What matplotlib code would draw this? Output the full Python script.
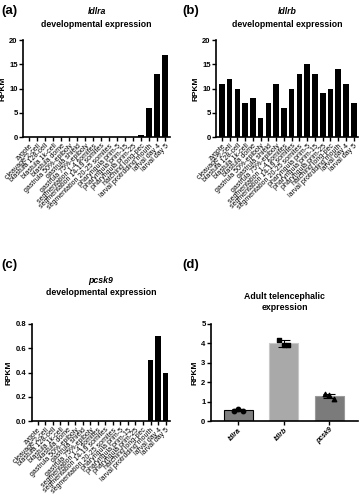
import matplotlib
matplotlib.use("Agg")
import matplotlib.pyplot as plt
import numpy as np

plt.rcParams['font.family'] = ['Liberation Sans', 'DejaVu Sans']

stages = ["zygote", "cleavage 2-cell", "blastula 128-cell", "blastula 1k-cell",
          "blastula dome", "gastrula 50%-epiboly", "gastrula shield",
          "gastrula 75%-epiboly", "segmentation 1-4 somites",
          "segmentation 14-19 somites", "segmentation 20-25 somites",
          "pharyngula prim-5", "pharyngula prim-15", "pharyngula prim-25",
          "hatching long-pec", "larval protruding mouth", "larval day 4", "larval day 5"]

ldlra = [0, 0, 0, 0, 0, 0, 0, 0, 0, 0, 0, 0, 0, 0, 0.5, 6, 13, 17]
ldlrb = [11, 12, 10, 7, 8, 4, 7, 11, 6, 10, 13, 15, 13, 9, 10, 14, 11, 7]
pcsk9 = [0, 0, 0, 0, 0, 0, 0, 0, 0, 0, 0, 0, 0, 0, 0, 0.5, 0.7, 0.4]

adult_genes = ["ldlra", "ldlrb", "pcsk9"]
adult_mean = [0.55, 4.0, 1.28]
adult_sd = [0.05, 0.17, 0.12]
adult_points = [[0.5, 0.6, 0.52], [4.2, 3.9, 3.92], [1.38, 1.35, 1.12]]
adult_colors = ["#7f7f7f", "#a9a9a9", "#7b7b7b"]
adult_edges = ["#000000", "#c8c8c8", "#9a9a9a"]
adult_markers = ["o", "s", "^"]

fig = plt.figure(figsize=(3.62, 5.0), dpi=100)

def style(ax):
    for s in ["top", "right"]:
        ax.spines[s].set_visible(False)
    for s in ["left", "bottom"]:
        ax.spines[s].set_linewidth(1.2)
    ax.tick_params(axis='both', width=1.0, length=3, pad=1)
    ax.tick_params(axis='y', labelsize=5.5)
    for lab in ax.get_yticklabels():
        lab.set_fontweight('bold')

def dev_panel(rect, vals, yticks, ylim, gene, title_y):
    ax = fig.add_axes(rect)
    x = np.arange(len(stages))
    ax.bar(x, vals, width=0.72, color='black')
    ax.set_xlim(-0.75, len(stages) - 0.4)
    ax.set_ylim(*ylim)
    ax.set_yticks(yticks)
    ax.set_xticks(x)
    ax.set_xticklabels(stages, rotation=45, ha='right', rotation_mode='anchor', fontsize=5)
    ax.set_ylabel("RPKM", fontsize=6, fontweight='bold', labelpad=2)
    style(ax)
    ax.text(0.5, title_y[0], gene, transform=ax.transAxes, ha='center', va='center',
            fontsize=6.3, fontweight='bold', fontstyle='italic')
    ax.text(0.5, title_y[1], "developmental expression", transform=ax.transAxes,
            ha='center', va='center', fontsize=6.3, fontweight='bold')
    return ax

axa = dev_panel([0.064, 0.726, 0.406, 0.194], ldlra, [0, 5, 10, 15, 20], (0, 20), "ldlra", (1.29, 1.155))
axb = dev_panel([0.597, 0.726, 0.393, 0.194], ldlrb, [0, 5, 10, 15, 20], (0, 20), "ldlrb", (1.29, 1.155))
axc = dev_panel([0.088, 0.158, 0.382, 0.194], pcsk9, [0.0, 0.2, 0.4, 0.6, 0.8], (0, 0.8), "pcsk9", (1.45, 1.32))
axc.set_yticklabels(["0.0", "0.2", "0.4", "0.6", "0.8"])
for lab in axc.get_yticklabels():
    lab.set_fontweight('bold')

axd = fig.add_axes([0.583, 0.158, 0.407, 0.194])
xd = np.arange(len(adult_genes))
axd.bar(xd, adult_mean, width=0.63, color=adult_colors, edgecolor=adult_edges, linewidth=0.8)
axd.errorbar(xd, adult_mean, yerr=adult_sd, fmt='none', ecolor='black', elinewidth=0.8, capsize=4, capthick=0.8)
for i, pts in enumerate(adult_points):
    offs = np.array([-0.1, 0.0, 0.1])[:len(pts)]
    axd.scatter(xd[i] + offs, pts, marker=adult_markers[i], s=10, color='black', zorder=5)
axd.set_xlim(-0.6, 2.64)
axd.set_ylim(0, 5)
axd.set_yticks([0, 1, 2, 3, 4, 5])
axd.set_xticks(xd)
axd.set_xticklabels(adult_genes, rotation=45, ha='right', rotation_mode='anchor', fontsize=5,
                    fontstyle='italic', fontweight='bold')
axd.set_ylabel("RPKM", fontsize=6, fontweight='bold', labelpad=2)
style(axd)
axd.text(0.5, 1.28, "Adult telencephalic", transform=axd.transAxes, ha='center', va='center',
         fontsize=6.3, fontweight='bold')
axd.text(0.5, 1.165, "expression", transform=axd.transAxes, ha='center', va='center',
         fontsize=6.3, fontweight='bold')

for lbl, xx, yy in [("(a)", 0.005, 0.978), ("(b)", 0.505, 0.978), ("(c)", 0.005, 0.47), ("(d)", 0.505, 0.47)]:
    fig.text(xx, yy, lbl, fontsize=9.5, fontweight='bold', ha='left', va='center')

fig.savefig("out.png", dpi=100)
